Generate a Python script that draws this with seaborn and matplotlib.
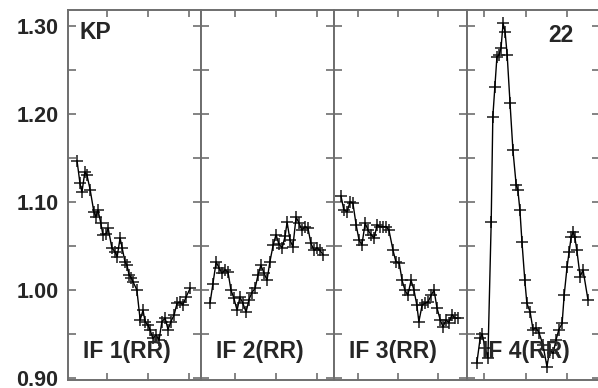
import numpy as np
import pandas as pd
import matplotlib.pyplot as plt
import seaborn as sns

sns.set_style("white")
plt.rcParams['font.family'] = ['Liberation Sans', 'DejaVu Sans']

# x in tick units within each panel
panel_names = ["IF 1(RR)", "IF 2(RR)", "IF 3(RR)", "IF 4(RR)"]

x1 = [0.22, 0.29, 0.34, 0.41, 0.46, 0.54, 0.63, 0.68, 0.73, 0.80, 0.85, 0.93, 0.98,
      1.07, 1.15, 1.20, 1.27, 1.32, 1.39, 1.44, 1.49, 1.54, 1.59, 1.68, 1.76, 1.83,
      1.88, 1.95, 2.00, 2.07, 2.15, 2.22, 2.29, 2.37, 2.44, 2.51, 2.59, 2.66, 2.73,
      2.80, 2.88, 2.98]
y1 = [1.147, 1.122, 1.111, 1.134, 1.131, 1.114, 1.089, 1.083, 1.091, 1.076, 1.063,
      1.064, 1.070, 1.048, 1.043, 1.038, 1.059, 1.048, 1.032, 1.028, 1.017, 1.014,
      1.009, 1.000, 0.966, 0.977, 0.964, 0.960, 0.955, 0.945, 0.949, 0.943, 0.964,
      0.968, 0.955, 0.964, 0.972, 0.985, 0.986, 0.983, 0.992, 1.002]

x2 = [0.22, 0.29, 0.37, 0.44, 0.51, 0.59, 0.66, 0.73, 0.80, 0.88, 0.95, 1.02, 1.10,
      1.17, 1.24, 1.32, 1.39, 1.46, 1.54, 1.61, 1.68, 1.76, 1.83, 1.90, 1.98, 2.05,
      2.10, 2.17, 2.24, 2.32, 2.39, 2.46, 2.54, 2.61, 2.68, 2.76, 2.83, 2.90, 2.98]
y2 = [0.985, 1.007, 1.032, 1.025, 1.019, 1.023, 1.020, 1.000, 0.991, 0.977, 0.992,
      0.985, 0.975, 0.989, 0.997, 1.002, 1.017, 1.028, 1.019, 1.011, 1.032, 1.051,
      1.063, 1.052, 1.048, 1.061, 1.077, 1.057, 1.049, 1.083, 1.076, 1.068, 1.072,
      1.070, 1.053, 1.045, 1.048, 1.045, 1.040]

x3 = [0.17, 0.24, 0.32, 0.39, 0.46, 0.54, 0.61, 0.68, 0.76, 0.83, 0.90, 0.98, 1.05,
      1.12, 1.20, 1.27, 1.34, 1.44, 1.51, 1.59, 1.66, 1.73, 1.80, 1.88, 1.95, 2.02,
      2.07, 2.15, 2.22, 2.29, 2.37, 2.44, 2.51, 2.59, 2.66, 2.73, 2.80, 2.88, 2.95,
      3.02]
y3 = [1.107, 1.091, 1.089, 1.100, 1.099, 1.074, 1.057, 1.051, 1.076, 1.068, 1.063,
      1.059, 1.074, 1.072, 1.072, 1.072, 1.068, 1.045, 1.032, 1.031, 1.011, 1.000,
      0.994, 1.011, 1.000, 0.983, 0.964, 0.983, 0.985, 0.986, 0.994, 1.000, 0.980,
      0.966, 0.958, 0.966, 0.963, 0.972, 0.968, 0.968]

x4 = [0.24, 0.32, 0.37, 0.44, 0.51, 0.59, 0.63, 0.68, 0.73, 0.78, 0.83, 0.88, 0.93,
      0.98, 1.05, 1.12, 1.20, 1.24, 1.29, 1.34, 1.41, 1.46, 1.54, 1.61, 1.68, 1.76,
      1.85, 1.95, 2.02, 2.10, 2.17, 2.24, 2.32, 2.37, 2.44, 2.49, 2.54, 2.59, 2.63,
      2.68, 2.76, 2.83, 2.95]
y4 = [0.917, 0.945, 0.950, 0.934, 0.923, 1.077, 1.197, 1.231, 1.265, 1.267, 1.275,
      1.303, 1.293, 1.267, 1.212, 1.159, 1.119, 1.114, 1.091, 1.055, 1.011, 0.985,
      0.975, 0.955, 0.957, 0.951, 0.938, 0.913, 0.932, 0.928, 0.943, 0.955, 0.962,
      0.994, 1.026, 1.043, 1.060, 1.066, 1.060, 1.045, 1.015, 1.023, 0.989]

panel_ticks = [[0.95, 1.95, 2.95], [0.83, 1.83, 2.83],
               [0.59, 1.56, 2.54], [0.41, 1.44, 2.44]]

frames = []
for name, xs, ys in zip(panel_names, [x1, x2, x3, x4], [y1, y2, y3, y4]):
    frames.append(pd.DataFrame({"panel": name, "x": xs, "y": ys}))
df = pd.concat(frames, ignore_index=True)

fig = plt.figure(figsize=(5.98, 3.88), dpi=100)
W, H = 598.0, 388.0
spine_col = "#6e6e6e"

for i, name in enumerate(panel_names):
    left = (68 + 133 * i) / W
    ax = fig.add_axes([left, 8 / H, 133 / W, 370 / H])
    sub = df[df["panel"] == name]
    sns.lineplot(data=sub, x="x", y="y", ax=ax, color="black", lw=1.0,
                 sort=False, estimator=None)
    sns.scatterplot(data=sub, x="x", y="y", ax=ax, marker="+", s=75,
                    color="#1a1a1a", linewidth=1.1)
    ax.set_xlim(0, 133 / 41)
    ax.set_ylim(0.8977, 1.3182)
    ax.set_xlabel("")
    ax.set_ylabel("")
    ax.set_xticks(panel_ticks[i])
    ax.set_yticks([0.9, 1.0, 1.1, 1.2, 1.3])
    ax.set_yticks([0.95, 1.05, 1.15, 1.25], minor=True)
    ax.tick_params(axis="x", direction="in", top=True, bottom=True, length=5,
                   width=1.2, color=spine_col, labelbottom=False)
    ax.tick_params(axis="y", which="both", direction="in", left=True, right=True,
                   length=6, width=1.2, color=spine_col, labelleft=(i == 0),
                   labelsize=15.5, pad=7)
    if i == 0:
        ax.set_yticklabels(["0.90", "1.00", "1.10", "1.20", "1.30"],
                           fontweight="bold")
    for sp in ax.spines.values():
        sp.set_visible(True)
        sp.set_color(spine_col)
        sp.set_linewidth(1.4)
    ax.text(0.445, 0.076, name, transform=ax.transAxes, ha="center",
            va="center", fontsize=16.5, fontweight="bold")
    if i == 0:
        ax.text(0.09, 0.938, "KP", transform=ax.transAxes, ha="left",
                va="center", fontsize=16.5, fontweight="bold")
    if i == 3:
        ax.text(0.61, 0.932, "22", transform=ax.transAxes, ha="left",
                va="center", fontsize=16.5, fontweight="bold")

fig.savefig("out.png", dpi=100)
